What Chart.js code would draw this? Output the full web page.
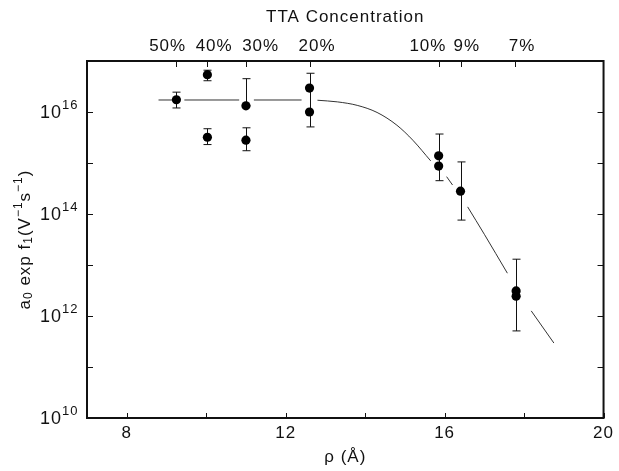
<!DOCTYPE html>
<html><head><meta charset="utf-8">
<script src="https://cdn.jsdelivr.net/npm/chart.js@4.4.1/dist/chart.umd.min.js"></script>
<style>html,body{margin:0;padding:0;background:#fff;}</style>
</head><body>
<canvas id="c" width="619" height="471"></canvas>
<script>
// ---- data ----
const rho = [9.25, 10.03, 10.03, 11.0, 11.0, 12.6, 12.6, 15.85, 15.85, 16.4, 17.8, 17.8];
const rate = [1.74e16, 5.4e16, 3.2e15, 1.32e16, 2.8e15, 2.95e16, 1.0e16, 1.38e15, 8.7e14, 2.8e14, 3.1e12, 2.45e12];
const errRho = [9.25, 10.03, 10.03, 11.0, 11.0, 12.6, 15.85, 16.4, 17.8];
const errLow = [1.2e16, 4.1e16, 2.3e15, 1.32e16, 1.74e15, 5.1e15, 4.5e14, 7.6e13, 5.1e11];
const errHigh = [2.45e16, 6.6e16, 4.7e15, 4.5e16, 4.9e15, 5.75e16, 3.7e15, 1.05e15, 1.3e13];
const fitRho = [8.8, 9.15, 9.25, 9.45, 10.83, 11.0, 11.2, 12.4, 12.6, 12.8, 13.3, 13.8, 14.3, 14.8, 15.2, 15.65, 15.85, 16.05, 16.2, 16.4, 16.58, 17.0, 17.58, 17.8, 18.18, 18.75];
const fitRate = [1.72e16, 1.72e16, null, 1.72e16, 1.72e16, null, 1.72e16, 1.72e16, null, 1.70e16, 1.58e16, 1.35e16, 9.8e15, 5.5e15, 2.8e15, 1.1e15, null, 5.4e14, 3.7e14, null, 1.38e14, 4.0e13, 6.9e12, null, 1.26e12, 2.95e11];
const concLabels = ['50%', '40%', '30%', '20%', '10%', '9%', '7%'];
const concLabelRho = [9.03, 10.2, 11.37, 12.79, 15.58, 16.56, 17.95];
const concTickRho = [9.25, 10.03, 11.0, 12.6, 15.85, 16.4, 17.78];
const xTicks = [8, 12, 16, 20];
const xMinorTicks = [8, 10, 12, 14, 16, 18, 20];
const yDecades = [10, 11, 12, 13, 14, 15, 16, 17];
const yLabelExps = [10, 12, 14, 16];
// y-axis title pieces: [text, role] (n = normal, sub = subscript, sup = superscript)
const yTitleParts = [['a', 'n'], ['0', 'sub'], [' exp f', 'n'], ['1', 'sub'], ['(V', 'n'], ['−1', 'sup'], ['s', 'n'], ['−1', 'sup'], [')', 'n']];

const FONT = "'Liberation Sans', Arial, Helvetica, sans-serif";
const INK = '#111';
Chart.defaults.font.family = FONT;
Chart.defaults.font.size = 17;
Chart.defaults.color = INK;

const spacing = {
  id: 'spacing',
  beforeUpdate(chart) { chart.ctx.letterSpacing = '1px'; },
  beforeDraw(chart) { chart.ctx.letterSpacing = '1px'; }
};

const errorBars = {
  id: 'errorBars',
  beforeDatasetsDraw(chart) {
    const {ctx, scales: {x, y}} = chart;
    ctx.save();
    ctx.strokeStyle = INK;
    ctx.lineWidth = 1;
    errRho.forEach((r, i) => {
      const px = Math.round(x.getPixelForValue(r)) + 0.5;
      const y1 = y.getPixelForValue(errLow[i]);
      const y2 = y.getPixelForValue(errHigh[i]);
      ctx.beginPath();
      ctx.moveTo(px, y1); ctx.lineTo(px, y2);
      ctx.moveTo(px - 4, y1); ctx.lineTo(px + 4, y1);
      ctx.moveTo(px - 4, y2); ctx.lineTo(px + 4, y2);
      ctx.stroke();
    });
    ctx.restore();
  }
};

const frame = {
  id: 'frame',
  afterDraw(chart) {
    const {ctx, chartArea: a, scales: {x, y}} = chart;
    ctx.save();
    ctx.strokeStyle = INK;
    ctx.lineWidth = 2;
    ctx.strokeRect(a.left, a.top, a.right - a.left, a.bottom - a.top);
    ctx.lineWidth = 1;
    ctx.beginPath();
    yDecades.forEach(e => {
      const py = Math.round(y.getPixelForValue(Math.pow(10, e))) + 0.5;
      ctx.moveTo(a.left, py); ctx.lineTo(a.left + 6, py);
      ctx.moveTo(a.right, py); ctx.lineTo(a.right - 6, py);
    });
    xMinorTicks.forEach(v => {
      const px = Math.round(x.getPixelForValue(v)) + 0.5;
      ctx.moveTo(px, a.bottom); ctx.lineTo(px, a.bottom - 5);
    });
    concTickRho.forEach(v => {
      const px = Math.round(x.getPixelForValue(v)) + 0.5;
      ctx.moveTo(px, a.top); ctx.lineTo(px, a.top + 6);
    });
    ctx.stroke();
    ctx.fillStyle = INK;
    ctx.letterSpacing = '1px';
    // y tick labels with superscript exponents
    yLabelExps.forEach(e => {
      const py = y.getPixelForValue(Math.pow(10, e));
      ctx.font = '18px ' + FONT;
      ctx.textAlign = 'right';
      ctx.textBaseline = 'middle';
      ctx.fillText('10', 62, py + 1);
      ctx.font = '13px ' + FONT;
      ctx.textAlign = 'left';
      ctx.fillText(String(e), 62, py - 7);
    });
    // rotated y-axis title with sub/superscripts
    const fonts = {n: '17px ' + FONT, sub: '12px ' + FONT, sup: '12px ' + FONT};
    const shift = {n: 0, sub: 4, sup: -6};
    let total = 0;
    const widths = yTitleParts.map(([t, r]) => { ctx.font = fonts[r]; const w = ctx.measureText(t).width; total += w; return w; });
    ctx.translate(25, (a.top + a.bottom) / 2);
    ctx.rotate(-Math.PI / 2);
    ctx.textAlign = 'left';
    ctx.textBaseline = 'middle';
    let cx = -total / 2;
    yTitleParts.forEach(([t, r], i) => {
      ctx.font = fonts[r];
      ctx.fillText(t, cx, shift[r]);
      cx += widths[i];
    });
    ctx.restore();
  }
};

new Chart(document.getElementById('c'), {
  data: {
    datasets: [
      {
        type: 'scatter',
        data: rho.map((r, i) => ({x: r, y: rate[i]})),
        backgroundColor: '#000',
        borderWidth: 0,
        pointRadius: 4.6,
        order: 1
      },
      {
        type: 'line',
        data: fitRho.map((r, i) => ({x: r, y: fitRate[i]})),
        borderColor: '#333',
        borderWidth: 1,
        pointRadius: 0,
        spanGaps: false,
        cubicInterpolationMode: 'monotone',
        fill: false,
        order: 2
      }
    ]
  },
  options: {
    responsive: false,
    animation: false,
    devicePixelRatio: 1,
    layout: {padding: {left: 0, right: 12, top: 0, bottom: 0}},
    plugins: {legend: {display: false}, tooltip: {enabled: false}},
    scales: {
      x: {
        type: 'linear', position: 'bottom', min: 7, max: 20,
        afterBuildTicks: s => { s.ticks = xTicks.map(v => ({value: v})); },
        afterFit: s => { s.height = 53; },
        grid: {display: false, drawTicks: false},
        border: {display: false},
        ticks: {padding: 5, autoSkip: false, maxRotation: 0, color: INK},
        title: {display: true, text: 'ρ (Å)', padding: {top: 0, bottom: 3}, color: INK}
      },
      x2: {
        type: 'linear', position: 'top', min: 7, max: 20,
        afterBuildTicks: s => { s.ticks = concLabelRho.map(v => ({value: v})); },
        afterFit: s => { s.height = 61; },
        grid: {display: false, drawTicks: false},
        border: {display: false},
        ticks: {padding: 4, autoSkip: false, maxRotation: 0, color: INK,
                callback: (v, i) => concLabels[i]},
        title: {display: true, text: 'TTA Concentration', padding: {top: 7, bottom: 0}, color: INK}
      },
      y: {
        type: 'logarithmic', position: 'left', min: 1e10, max: 1e17,
        afterBuildTicks: s => { s.ticks = yDecades.map(e => ({value: Math.pow(10, e)})); },
        afterFit: s => { s.width = 87; },
        grid: {display: false, drawTicks: false},
        border: {display: false},
        ticks: {callback: () => ''},
        title: {display: false}
      }
    }
  },
  plugins: [spacing, errorBars, frame]
});
</script>
</body></html>
